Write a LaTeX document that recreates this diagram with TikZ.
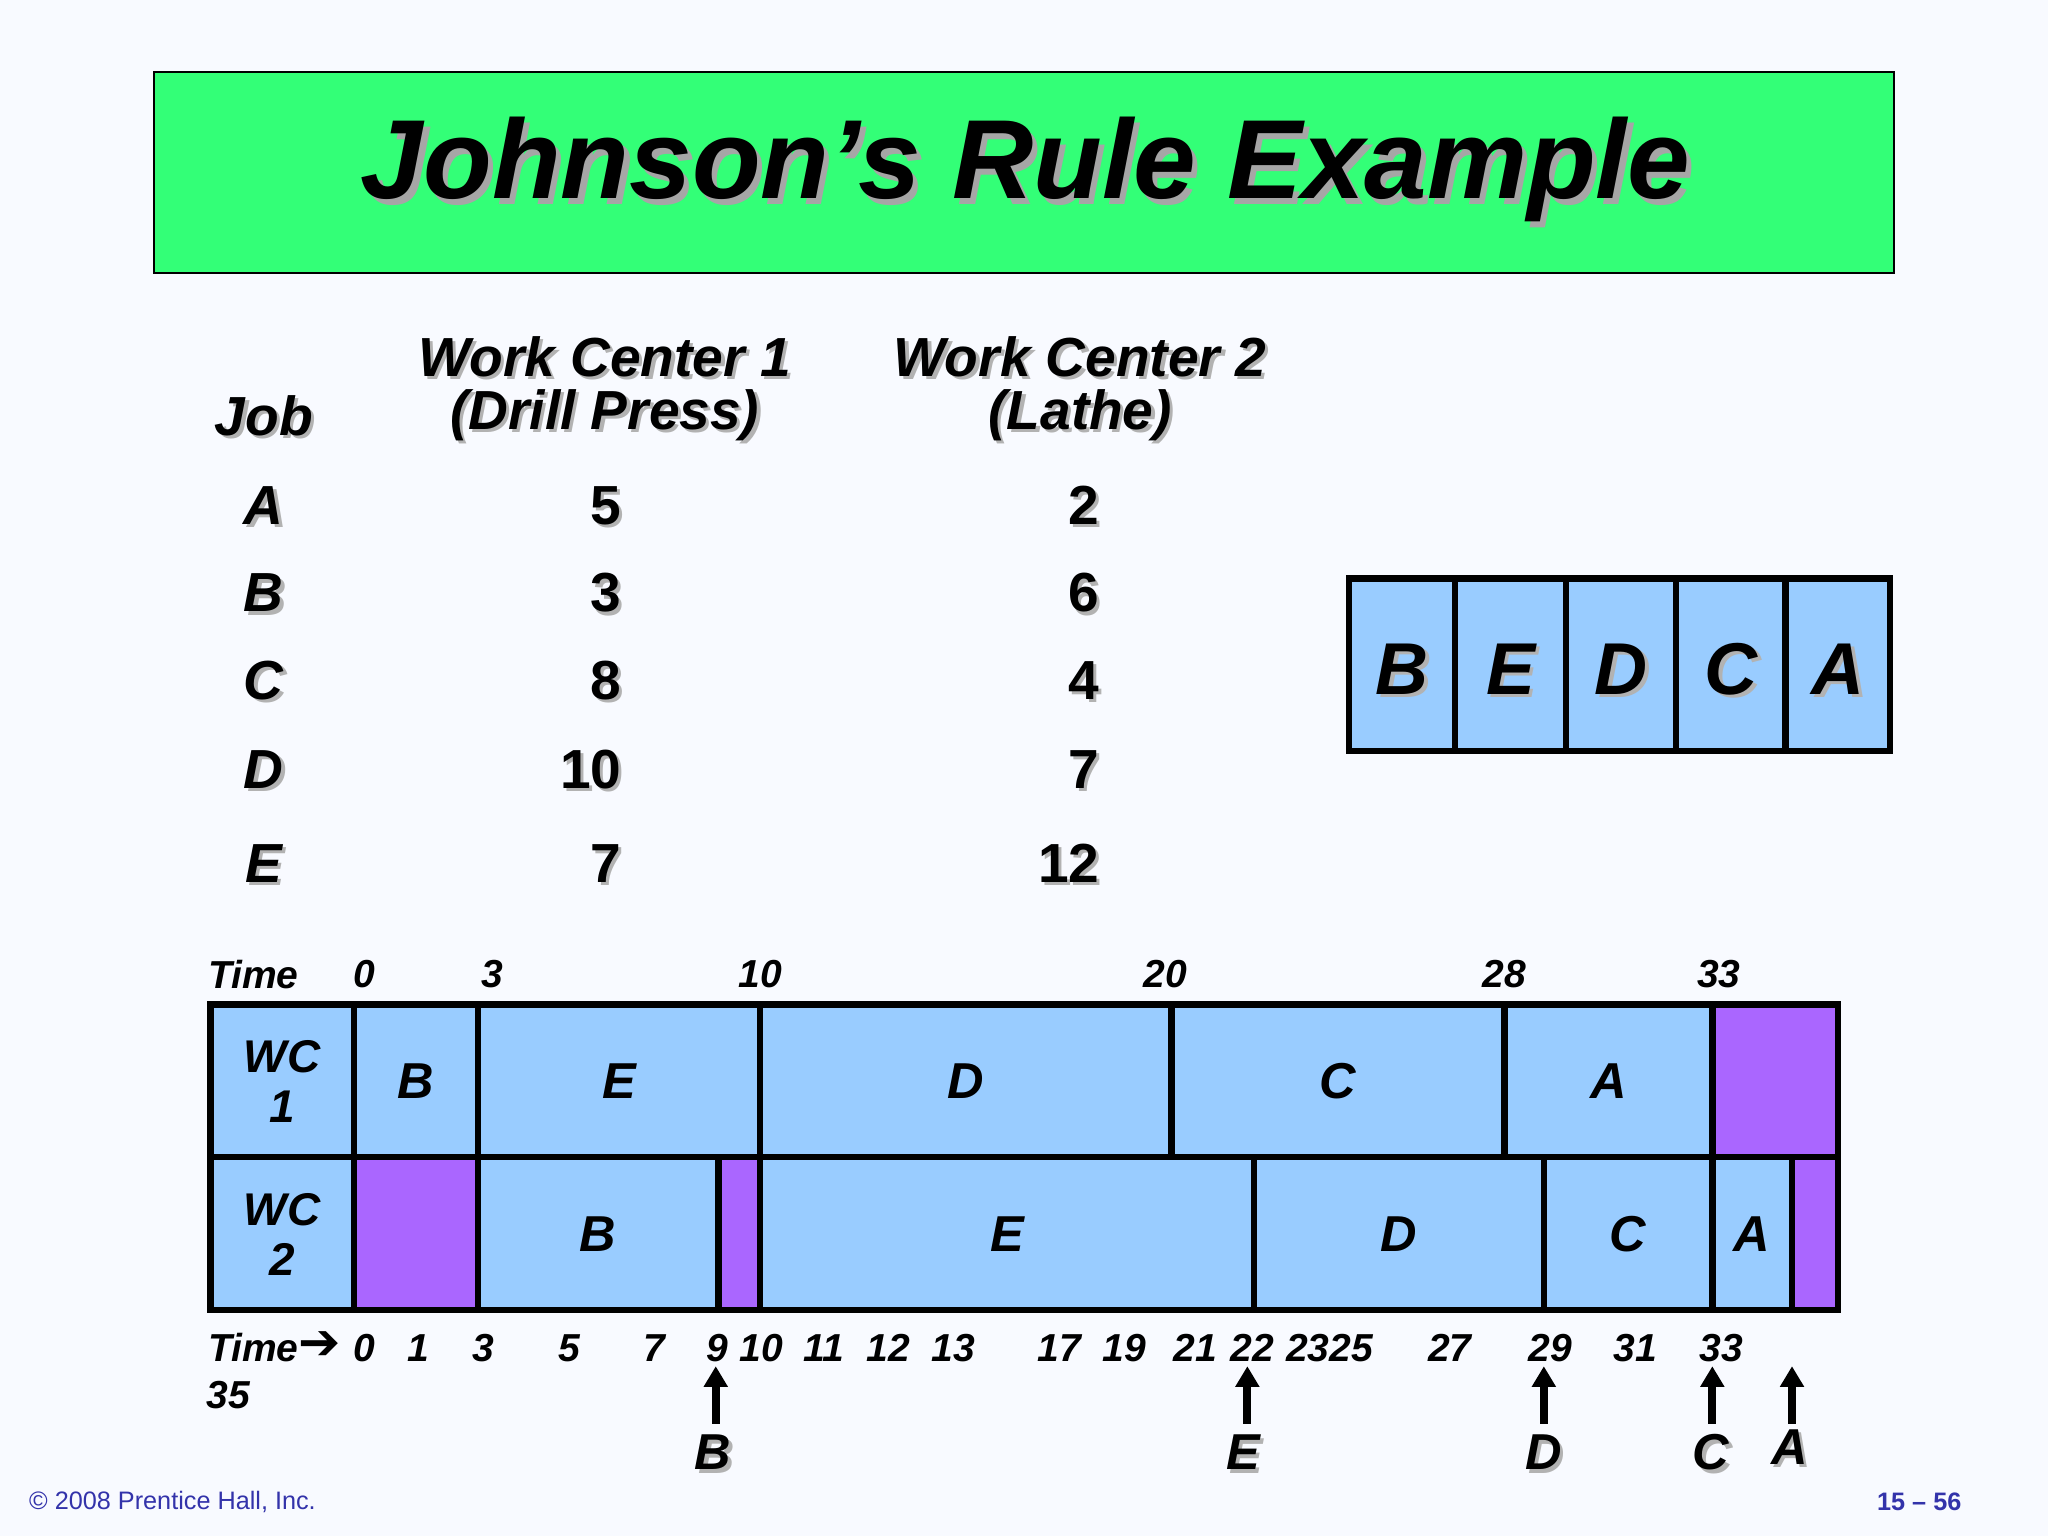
\documentclass[tikz,border=0pt]{standalone}
\usepackage{fontspec}
\setmainfont{Liberation Sans}
\newfontfamily\djv{DejaVu Sans}
\usetikzlibrary{arrows.meta}
\definecolor{bgc}{HTML}{F8FAFF}
\definecolor{titlegreen}{HTML}{33FF77}
\definecolor{lblue}{HTML}{99CCFF}
\definecolor{purp}{HTML}{AA66FF}
\definecolor{footblue}{HTML}{3333AA}
\begin{document}
\begin{tikzpicture}[x=0.02cm,y=-0.02cm,
  sh/.style={font=\bfseries\itshape\fontsize{#1}{#1}\selectfont,inner sep=0pt},
  num/.style={font=\bfseries\fontsize{24}{24}\selectfont,inner sep=0pt},
  cell/.style={draw=black,line width=2.8pt,fill=lblue},
  pcell/.style={draw=black,line width=2.8pt,fill=purp},
  up/.style={-{Triangle[length=9pt,width=10pt]},line width=3.5pt}]
\fill[bgc] (0,0) rectangle (1568,1176);
\draw[fill=titlegreen,line width=0.8pt] (118,55) rectangle (1450,209);
\node[sh=49,text=gray!70] at (789,134) {Johnson’s Rule Example};
\node[sh=49] (title) at (785,130) {Johnson’s Rule Example};
% headers
\newcommand{\shtxt}[5]{\node[sh=#1,text=gray!60,anchor=#4] at ([shift={(2.5,2.5)}]#2) {#5};\node[sh=#1,anchor=#4] (#3) at (#2) {#5};}
\newcommand{\shnum}[3]{\node[num,text=gray!60,anchor=east] at ([shift={(2.5,2.5)}]#1) {#3};\node[num,anchor=east] (#2) at (#1) {#3};}
\shtxt{24}{202,318}{hjob}{center}{Job}
\shtxt{24}{463,273}{hwa}{center}{Work Center 1}
\shtxt{24}{463,318}{hwb}{center}{(Drill Press)}
\shtxt{24}{827,273}{hla}{center}{Work Center 2}
\shtxt{24}{827,318}{hlb}{center}{(Lathe)}
\shtxt{24}{202,387}{ja}{center}{A}
\shtxt{24}{202,454}{jb}{center}{B}
\shtxt{24}{202,521}{jc}{center}{C}
\shtxt{24}{202,589}{jd}{center}{D}
\shtxt{24}{202,661}{je}{center}{E}
\shnum{476,387}{a1}{5}
\shnum{476,454}{b1}{3}
\shnum{476,521}{c1}{8}
\shnum{476,589}{d1}{10}
\shnum{476,661}{e1}{7}
\shnum{842,387}{a2}{2}
\shnum{842,454}{b2}{6}
\shnum{842,521}{c2}{4}
\shnum{842,589}{d2}{7}
\shnum{842,661}{e2}{12}
% sequence
\foreach \a/\b/\l in {1033/1114/B,1114/1199/E,1199/1283/D,1283/1367/C,1367/1447/A}{
  \draw[cell] (\a,443) rectangle (\b,575);
  \node[sh=32,text=gray!60] at ({(\a+\b)/2+3},{512+3}) {\l};
  \node[sh=32] (s\l) at ({(\a+\b)/2},512) {\l};}
% gantt
\draw[cell] (161,769) rectangle (271,886);
\draw[cell] (161,886) rectangle (271,1003);
\node[sh=20,align=center] (wc1) at (216,828) {WC\\[2pt]1};
\node[sh=20,align=center] (wc2) at (216,945) {WC\\[2pt]2};
\foreach \a/\b/\l in {271/366/B,366/582/E,582/897/D,897/1152/C,1152/1311/A}{
  \draw[cell] (\a,769) rectangle (\b,886);
  \node[sh=22] (g1\l) at ({(\a+\b)/2},828) {\l};}
\draw[pcell] (1311,769) rectangle (1407,886);
\foreach \a/\b/\l in {366/550/B,582/960/E,960/1182/D,1182/1311/C,1311/1372/A}{
  \draw[cell] (\a,886) rectangle (\b,1003);
  \node[sh=22] (g2\l) at ({(\a+\b)/2},945) {\l};}
\draw[pcell] (271,886) rectangle (366,1003);
\draw[pcell] (550,886) rectangle (582,1003);
\draw[pcell] (1372,886) rectangle (1407,1003);
\draw[line width=2.8pt] (161,769) rectangle (1407,1003);
% top times
\node[sh=17] (ttime) at (194,746) {Time};
\foreach \x/\t in {279/0,377/3,582/10,892/20,1152/28,1316/33}{\node[sh=17] at (\x,746) {\t};}
% bottom times
\node[sh=17] (btime) at (194,1032) {Time};
\node[font=\djv\bfseries\fontsize{22}{22}\selectfont,inner sep=0pt] at (245,1030) {➔};
\node[sh=17] (t35) at (175,1068) {35};
\foreach \x/\t in {279/0,320/1,370/3,436/5,501/7,549/9,583/10,631/11,680/12,730/13,811/17,861/19,915/21,959/22,1018/2325,1110/27,1187/29,1252/31,1318/33}{\node[sh=17] at (\x,1032) {\t};}
\foreach \x/\l in {548/B,955/E,1182/D,1311/C,1372/A}{
  \coordinate (c\l) at (\x,1090);
  \coordinate (d\l) at (\x,1046);
  \draw[up] (c\l) -- (d\l);}
\foreach \x/\l/\y in {546/B/1112,952/E/1112,1182/D/1112,1310/C/1112,1370/A/1108}{
  \node[sh=22,text=gray!60] at (\x+2.5,\y+2.5) {\l};
  \node[sh=22] (m\l) at (\x,\y) {\l};}
\node[anchor=west,text=footblue,font=\fontsize{11}{11}\selectfont,inner sep=0pt] (copy) at (22,1150) {© 2008 Prentice Hall, Inc.};
\node[anchor=east,text=footblue,font=\bfseries\fontsize{11}{11}\selectfont,inner sep=0pt] (pg) at (1502,1150) {15 – 56};
\end{tikzpicture}
\end{document}
